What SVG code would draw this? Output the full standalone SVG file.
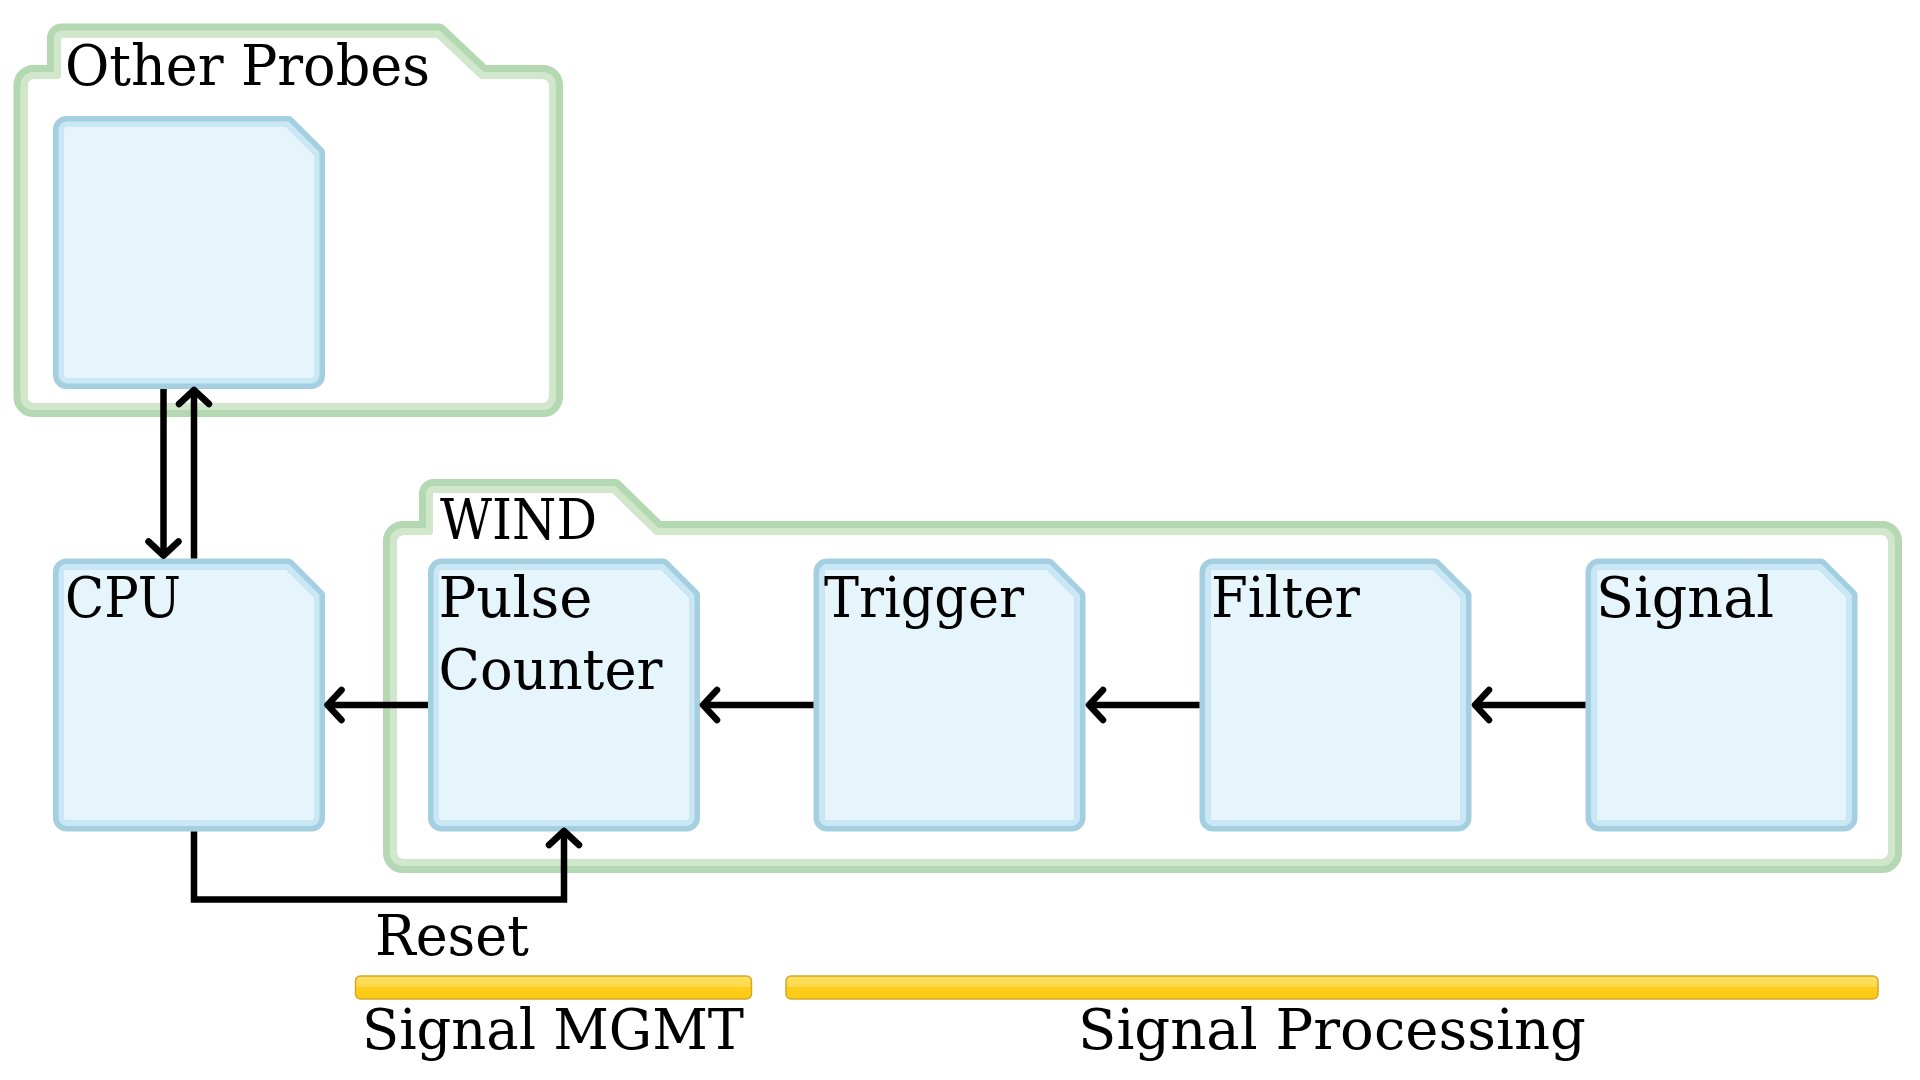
<svg xmlns="http://www.w3.org/2000/svg" xmlns:xlink="http://www.w3.org/1999/xlink" width="1920" height="1080" viewBox="0 0 1920 1080">
  <style>
    .lbl { font-family: "DejaVu Serif", "Liberation Serif", serif; font-size: 56px; fill: #000; }
    .mid { text-anchor: middle; }
    .fOuter { fill: #ffffff; stroke: #b4d8b2; stroke-width: 14; stroke-linejoin: round; }
    .fInner { fill: none; stroke: #d1e7cc; stroke-width: 7; stroke-linejoin: round; }
    .nOuter { fill: #e6f5fc; stroke: #a3cfe0; stroke-width: 11; stroke-linejoin: round; }
    .nInner { fill: none; stroke: #c9e7f4; stroke-width: 5.5; stroke-linejoin: round; }
    .conn { fill: none; stroke: #000; stroke-width: 6.5; stroke-linejoin: miter; }
    .bar { fill: url(#barGrad); stroke: #d4a62c; stroke-width: 1.5; }
  </style>
  <defs>
    <linearGradient id="barGrad" x1="0" y1="0" x2="0" y2="1">
      <stop offset="0" stop-color="#fde060"/>
      <stop offset="0.5" stop-color="#fdd94a"/>
      <stop offset="0.5" stop-color="#ffcd1c"/>
      <stop offset="1" stop-color="#ffca14"/>
    </linearGradient>
    <marker id="arr" markerUnits="userSpaceOnUse" viewBox="-20 -20 30 40" refX="0" refY="0" markerWidth="30" markerHeight="40" orient="auto" overflow="visible">
      <path d="M-14,-15 L0,0 L-14,15" fill="none" stroke="#000" stroke-width="6.5" stroke-linecap="round" stroke-linejoin="round"/>
    </marker>
    <g id="node">
      <path class="nOuter" d="M13.5,5.5 H235.5 L266.5,36.5 V259.5 A8,8 0 0 1 258.5,267.5 H13.5 A8,8 0 0 1 5.5,259.5 V13.5 A8,8 0 0 1 13.5,5.5 Z"/>
      <path class="nInner" d="M13.75,8.25 H234.55 L263.75,37.45 V259.25 A5.5,5.5 0 0 1 258.25,264.75 H13.75 A5.5,5.5 0 0 1 8.25,259.25 V13.75 A5.5,5.5 0 0 1 13.75,8.25 Z"/>
    </g>
  </defs>

  <g id="folder-other-probes">
    <path class="fOuter" d="M20.5,85 A13,13 0 0 1 33.5,72 H54 V38 A7.5,7.5 0 0 1 61.5,30.5 H439.5 L483.5,72 H543 A13,13 0 0 1 556,85 V397 A13,13 0 0 1 543,410 H33.5 A13,13 0 0 1 20.5,397 Z"/>
    <path class="fInner" d="M24,85 A9.5,9.5 0 0 1 33.5,75.5 H57.5 V38 A4,4 0 0 1 61.5,34 H438.2 L482.3,75.5 H543 A9.5,9.5 0 0 1 552.5,85 V397 A9.5,9.5 0 0 1 543,406.5 H33.5 A9.5,9.5 0 0 1 24,397 Z"/>
    <text class="lbl" x="65" y="85" textLength="365" lengthAdjust="spacingAndGlyphs">Other Probes</text>
  </g>

  <g id="folder-wind">
    <path class="fOuter" d="M390,541 A13,13 0 0 1 403,528 H426 V493.5 A7.5,7.5 0 0 1 433.5,486 H615.3 L658.3,528 H1882 A13,13 0 0 1 1895,541 V853 A13,13 0 0 1 1882,866 H403 A13,13 0 0 1 390,853 Z"/>
    <path class="fInner" d="M393.5,541 A9.5,9.5 0 0 1 403,531.5 H429.5 V493.5 A4,4 0 0 1 433.5,489.5 H614 L657,531.5 H1882 A9.5,9.5 0 0 1 1891.5,541 V853 A9.5,9.5 0 0 1 1882,862.5 H403 A9.5,9.5 0 0 1 393.5,853 Z"/>
    <text class="lbl" x="440" y="539" textLength="157" lengthAdjust="spacingAndGlyphs">WIND</text>
  </g>

  <g id="node-probe">
    <use xlink:href="#node" href="#node" x="53" y="116"/>
  </g>
  <g id="node-cpu">
    <use xlink:href="#node" href="#node" x="53" y="558.5"/>
    <text class="lbl" x="65" y="617" textLength="116" lengthAdjust="spacingAndGlyphs">CPU</text>
  </g>
  <g id="node-pulse-counter">
    <use xlink:href="#node" href="#node" x="428" y="558.5"/>
    <text class="lbl" x="438.5" y="617" textLength="154" lengthAdjust="spacingAndGlyphs">Pulse</text>
    <text class="lbl" x="438.5" y="689" textLength="224" lengthAdjust="spacingAndGlyphs">Counter</text>
  </g>
  <g id="node-trigger">
    <use xlink:href="#node" href="#node" x="813.5" y="558.5"/>
    <text class="lbl" x="824" y="617" textLength="200" lengthAdjust="spacingAndGlyphs">Trigger</text>
  </g>
  <g id="node-filter">
    <use xlink:href="#node" href="#node" x="1199.5" y="558.5"/>
    <text class="lbl" x="1211" y="617" textLength="149" lengthAdjust="spacingAndGlyphs">Filter</text>
  </g>
  <g id="node-signal">
    <use xlink:href="#node" href="#node" x="1585.5" y="558.5"/>
    <text class="lbl" x="1596" y="617" textLength="178" lengthAdjust="spacingAndGlyphs">Signal</text>
  </g>

  <g id="connectors">
    <line class="conn" x1="428" y1="705" x2="327.5" y2="705" marker-end="url(#arr)"/>
    <line class="conn" x1="813.5" y1="705" x2="703" y2="705" marker-end="url(#arr)"/>
    <line class="conn" x1="1199.5" y1="705" x2="1089" y2="705" marker-end="url(#arr)"/>
    <line class="conn" x1="1585.5" y1="705" x2="1475" y2="705" marker-end="url(#arr)"/>
    <line class="conn" x1="163.5" y1="389" x2="163.5" y2="555.5" marker-end="url(#arr)"/>
    <line class="conn" x1="194" y1="558.5" x2="194" y2="390" marker-end="url(#arr)"/>
    <polyline class="conn" points="194,831.5 194,899.5 564,899.5 564,831" marker-end="url(#arr)"/>
    <text class="lbl" x="375" y="955" textLength="154" lengthAdjust="spacingAndGlyphs">Reset</text>
  </g>

  <g id="legend">
    <rect class="bar" x="355.5" y="976" width="396" height="23" rx="5"/>
    <text class="lbl mid" x="553" y="1049" textLength="382" lengthAdjust="spacingAndGlyphs">Signal MGMT</text>
    <rect class="bar" x="786" y="976" width="1092" height="23" rx="5"/>
    <text class="lbl mid" x="1332" y="1049" textLength="508" lengthAdjust="spacingAndGlyphs">Signal Processing</text>
  </g>
</svg>
